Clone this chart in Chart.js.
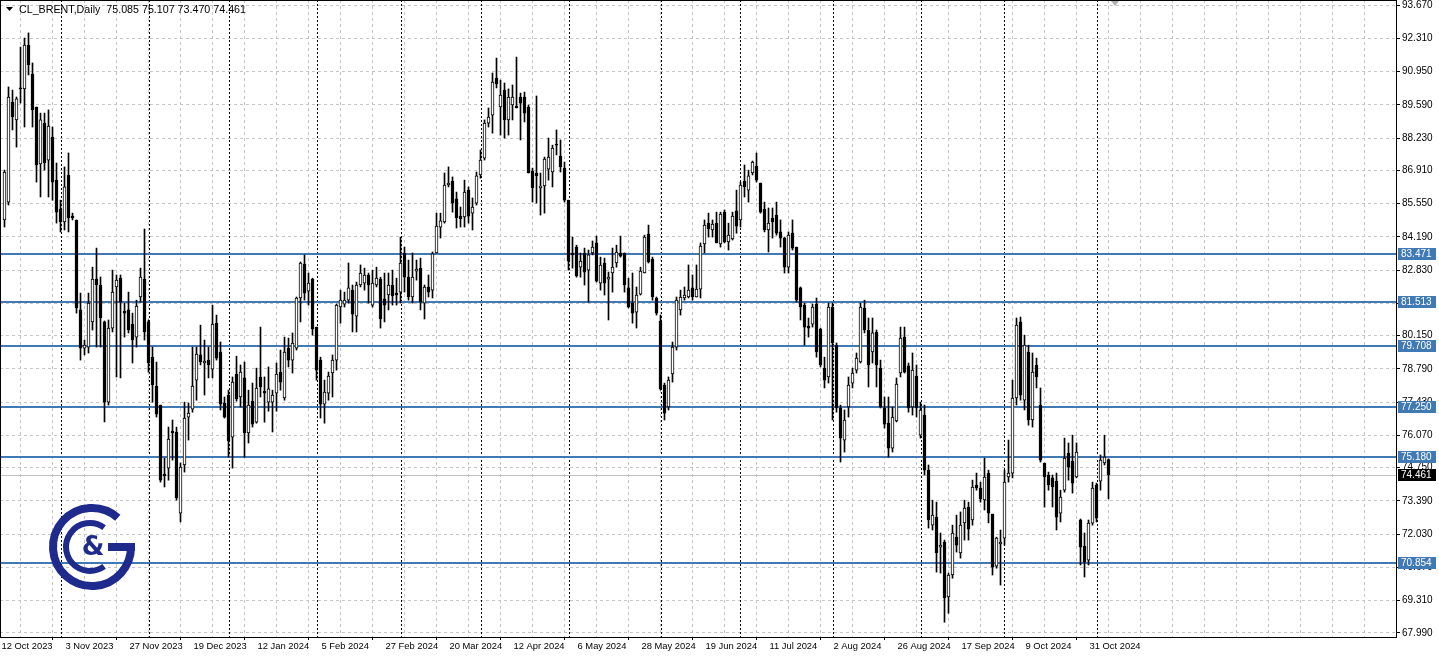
<!DOCTYPE html>
<html>
<head>
<meta charset="utf-8">
<script src="https://cdn.jsdelivr.net/npm/chart.js@4.4.1/dist/chart.umd.min.js"></script>
<style>
  html, body { margin: 0; padding: 0; background: #fff; }
  #wrap { position: relative; width: 1439px; height: 657px; }
</style>
</head>
<body>
<div id="wrap"><canvas id="brent" width="1439" height="657"></canvas></div>
<script>
/* CL_BRENT daily candles, 12 Oct 2023 .. 6 Nov 2024 */

const opens = [
  84.88, 85.61, 89.70, 88.97, 90.28, 90.24, 92.03, 90.85, 89.50, 87.17,
  88.84, 87.33, 88.27, 86.51, 85.33, 84.80, 86.72, 85.04, 84.88, 81.20,
  79.64, 79.68, 80.71, 82.46, 82.22, 80.71, 77.43, 80.46, 82.14, 82.50,
  81.14, 81.20, 80.62, 80.09, 81.73, 82.46, 80.71, 79.27, 78.09, 77.31,
  74.49, 74.73, 76.25, 76.21, 72.89, 74.86, 76.82, 77.14, 78.33, 79.36,
  79.03, 79.15, 78.78, 80.66, 79.48, 77.39, 77.72, 76.00, 78.58, 77.64,
  78.42, 76.17, 77.47, 76.61, 78.46, 77.88, 77.43, 77.43, 77.80, 78.66,
  77.60, 79.64, 79.15, 79.64, 81.69, 83.08, 81.97, 82.46, 80.50, 79.15,
  77.35, 77.80, 78.62, 79.15, 81.32, 81.44, 81.60, 82.01, 80.95, 82.22,
  82.30, 82.63, 81.40, 82.22, 82.46, 81.65, 81.81, 82.22, 81.89, 81.93,
  83.53, 82.54, 81.73, 82.79, 82.91, 81.48, 82.14, 82.01, 83.53, 84.59,
  84.80, 86.31, 86.47, 85.74, 85.04, 85.00, 86.10, 85.16, 85.57, 86.72,
  87.41, 88.84, 89.17, 90.68, 89.50, 90.19, 88.97, 89.58, 89.54, 89.91,
  89.91, 89.50, 86.88, 86.80, 86.19, 86.27, 86.96, 86.84, 87.98, 87.49,
  87.00, 85.69, 83.53, 83.77, 82.95, 83.53, 82.83, 83.53, 83.94, 82.30,
  83.12, 82.46, 82.71, 83.12, 83.53, 83.53, 82.10, 81.48, 81.11, 81.85,
  82.71, 84.30, 83.28, 81.69, 80.75, 78.13, 77.23, 78.58, 79.68, 81.20,
  81.69, 81.73, 82.10, 81.73, 82.05, 83.90, 84.75, 84.47, 84.75, 83.90,
  85.20, 83.98, 84.10, 85.25, 84.88, 86.47, 86.10, 86.80, 87.08, 86.39,
  85.33, 84.47, 84.96, 85.08, 84.39, 84.14, 82.95, 84.34, 83.77, 82.10,
  81.40, 80.54, 80.62, 81.44, 80.42, 78.82, 78.46, 81.32, 79.76, 77.19,
  75.88, 77.23, 78.21, 78.74, 79.07, 81.28, 80.38, 79.48, 80.30, 78.82,
  77.19, 76.57, 75.55, 76.66, 78.62, 80.09, 78.91, 77.23, 78.50, 76.08,
  76.90, 74.65, 72.40, 72.73, 71.50, 71.71, 69.46, 70.36, 71.91, 71.26,
  72.49, 73.14, 72.61, 74.04, 73.92, 73.43, 74.53, 72.85, 70.72, 71.63,
  71.87, 74.37, 74.53, 77.60, 80.71, 77.51, 79.48, 76.70, 78.95, 77.31,
  74.94, 74.45, 74.33, 74.20, 72.89, 73.83, 75.35, 75.02, 74.37, 72.61,
  71.54, 70.97, 72.48, 74.04, 74.20, 74.94, 75.085
];

const highs = [
  86.92, 90.32, 90.19, 89.91, 91.95, 92.32, 92.53, 91.30, 89.50, 89.25,
  89.25, 89.38, 88.68, 87.21, 85.69, 87.05, 87.62, 85.16, 84.88, 81.89,
  79.97, 81.89, 82.95, 83.73, 82.55, 80.75, 80.79, 82.83, 82.63, 82.63,
  81.48, 81.93, 81.07, 81.60, 82.91, 84.51, 80.79, 79.68, 79.07, 77.31,
  75.14, 76.41, 76.70, 76.41, 74.94, 77.43, 77.39, 79.68, 79.68, 80.58,
  79.97, 79.68, 81.40, 80.99, 79.89, 77.64, 77.92, 78.46, 79.31, 78.95,
  79.07, 77.92, 78.21, 78.82, 80.50, 78.46, 78.87, 77.92, 79.03, 79.56,
  80.09, 80.05, 80.26, 81.73, 83.16, 83.45, 82.71, 82.50, 80.50, 79.27,
  78.33, 78.66, 79.36, 81.44, 82.01, 81.93, 83.12, 82.22, 82.34, 83.04,
  82.91, 82.71, 82.83, 82.95, 82.54, 82.71, 82.71, 82.83, 82.50, 84.18,
  83.77, 83.24, 83.53, 83.24, 83.32, 82.22, 82.63, 83.57, 85.16, 85.16,
  86.80, 87.05, 86.64, 86.02, 85.41, 86.51, 86.23, 85.78, 86.84, 87.74,
  88.97, 89.46, 90.89, 91.50, 90.60, 90.48, 90.24, 90.40, 91.54, 90.07,
  90.11, 89.58, 87.00, 89.95, 86.80, 87.45, 88.23, 87.94, 88.56, 88.15,
  87.25, 85.69, 84.18, 83.85, 83.53, 83.73, 83.65, 84.02, 84.22, 83.36,
  83.32, 82.75, 83.73, 83.85, 84.22, 83.53, 82.50, 82.71, 82.14, 82.95,
  84.26, 84.67, 83.36, 81.73, 80.99, 78.21, 78.46, 79.89, 81.73, 82.01,
  82.14, 83.04, 82.63, 83.04, 83.94, 84.88, 85.16, 84.88, 85.20, 85.20,
  85.29, 84.75, 85.20, 86.10, 86.43, 87.13, 86.92, 87.29, 87.62, 86.39,
  85.61, 85.37, 85.37, 85.61, 84.88, 84.18, 84.39, 84.88, 83.77, 82.14,
  81.48, 80.87, 81.44, 81.69, 80.46, 79.27, 81.48, 81.48, 79.85, 77.31,
  77.11, 78.46, 78.82, 79.44, 81.48, 81.60, 80.87, 80.87, 80.38, 79.15,
  77.64, 77.64, 77.23, 78.42, 80.50, 80.50, 79.03, 79.44, 78.95, 77.43,
  77.31, 74.86, 73.42, 73.34, 72.08, 71.79, 70.44, 72.40, 72.81, 72.94,
  73.42, 73.34, 74.24, 74.53, 74.16, 75.14, 74.65, 72.85, 71.91, 72.20,
  74.65, 75.88, 78.33, 80.87, 80.91, 80.17, 79.76, 79.44, 79.23, 78.01,
  74.94, 74.57, 74.45, 74.53, 73.83, 75.96, 75.76, 76.08, 75.76, 72.65,
  72.08, 72.61, 74.16, 74.12, 75.27, 76.08, 75.107
];

const lows = [
  84.59, 85.49, 88.56, 87.86, 89.66, 88.68, 90.81, 88.68, 86.43, 85.82,
  86.92, 85.82, 85.69, 84.75, 84.39, 84.47, 84.39, 84.88, 81.07, 79.15,
  79.36, 79.44, 80.38, 79.68, 79.68, 76.62, 77.31, 80.30, 78.46, 78.42,
  80.09, 80.26, 79.03, 79.68, 81.52, 79.97, 78.66, 77.43, 76.82, 74.16,
  73.96, 74.24, 75.06, 73.42, 72.53, 74.57, 75.88, 77.02, 77.51, 78.95,
  77.72, 78.42, 78.42, 79.15, 77.11, 76.78, 75.18, 74.73, 77.47, 77.23,
  75.18, 75.76, 76.41, 76.57, 77.64, 76.61, 77.06, 76.21, 77.06, 77.92,
  77.51, 78.87, 78.62, 79.56, 80.71, 81.60, 81.40, 80.17, 78.33, 76.78,
  76.57, 77.51, 77.64, 78.74, 80.66, 81.32, 81.48, 80.30, 80.30, 82.14,
  82.01, 81.48, 81.32, 82.14, 80.46, 80.71, 81.20, 81.40, 81.40, 81.48,
  81.93, 81.60, 81.48, 82.42, 81.20, 80.83, 81.73, 81.69, 83.53, 84.14,
  84.75, 86.23, 85.20, 84.55, 84.59, 84.59, 84.75, 84.47, 85.49, 86.59,
  87.33, 88.68, 88.43, 90.28, 88.35, 88.23, 88.35, 88.97, 89.46, 88.15,
  88.89, 86.80, 85.61, 85.57, 85.08, 85.16, 86.51, 86.23, 87.54, 86.84,
  85.61, 82.83, 82.91, 82.54, 82.54, 82.22, 81.52, 83.45, 82.34, 82.01,
  81.81, 80.79, 81.93, 82.95, 83.36, 81.93, 81.28, 80.66, 80.46, 81.81,
  82.71, 83.12, 81.60, 80.99, 77.92, 76.70, 77.11, 78.25, 79.56, 80.99,
  81.60, 81.69, 81.60, 81.73, 81.69, 83.53, 84.18, 84.18, 83.94, 83.77,
  83.94, 83.65, 84.06, 84.34, 84.59, 85.82, 85.61, 86.72, 86.43, 85.16,
  84.39, 83.57, 84.14, 84.26, 83.77, 82.71, 82.71, 83.65, 81.52, 80.79,
  79.76, 80.09, 80.50, 79.27, 78.87, 78.01, 78.21, 76.70, 77.02, 74.98,
  75.39, 76.82, 78.01, 78.62, 79.03, 80.26, 78.05, 79.03, 78.05, 77.19,
  76.37, 75.18, 75.39, 76.62, 78.46, 78.62, 77.02, 76.90, 76.82, 75.96,
  74.45, 72.28, 72.20, 70.48, 70.44, 68.43, 68.80, 70.23, 71.30, 71.05,
  71.79, 71.79, 72.40, 73.83, 73.34, 73.02, 72.49, 70.36, 70.64, 69.95,
  71.58, 74.16, 74.33, 77.31, 77.51, 77.11, 76.49, 76.41, 78.01, 74.98,
  73.14, 73.83, 73.14, 72.20, 72.53, 73.75, 74.24, 73.71, 74.33, 70.77,
  70.28, 70.77, 72.40, 72.53, 73.83, 74.86, 73.470
];

const closes = [
  86.84, 89.91, 89.09, 89.83, 90.24, 92.03, 91.22, 89.38, 87.13, 88.97,
  87.21, 88.72, 86.43, 85.20, 84.80, 86.23, 84.96, 84.96, 81.28, 79.64,
  79.76, 81.48, 82.46, 82.22, 80.87, 77.43, 80.46, 81.93, 82.42, 81.52,
  81.07, 80.38, 79.97, 81.36, 82.54, 80.30, 79.03, 78.13, 76.94, 74.24,
  74.41, 75.92, 76.17, 73.51, 74.77, 76.78, 76.98, 78.09, 79.40, 79.07,
  79.11, 78.95, 80.62, 79.23, 77.35, 76.82, 75.84, 78.25, 77.56, 78.66,
  76.17, 77.31, 76.53, 78.01, 78.05, 77.80, 77.97, 77.72, 78.58, 78.25,
  79.48, 79.15, 79.85, 81.69, 83.12, 81.89, 82.30, 80.42, 78.74, 77.35,
  77.84, 78.50, 79.15, 81.40, 81.60, 81.60, 82.10, 81.03, 82.22, 82.71,
  82.63, 82.22, 82.30, 82.50, 80.83, 81.40, 82.22, 81.77, 81.81, 83.12,
  82.54, 81.73, 82.54, 82.87, 81.52, 82.14, 81.93, 83.49, 84.63, 84.84,
  86.31, 86.39, 85.57, 84.96, 84.92, 86.02, 85.04, 85.41, 86.68, 87.33,
  88.84, 89.09, 90.52, 90.44, 89.99, 88.97, 89.91, 89.91, 89.46, 89.66,
  89.25, 86.80, 86.19, 86.68, 86.27, 87.37, 87.45, 87.82, 87.94, 87.05,
  85.69, 83.20, 83.45, 82.59, 83.20, 82.75, 83.45, 83.77, 82.38, 83.04,
  82.30, 82.54, 82.95, 83.57, 83.40, 82.22, 81.32, 81.07, 81.81, 82.79,
  84.18, 83.16, 81.73, 81.07, 77.97, 76.98, 78.33, 79.68, 81.60, 81.73,
  81.81, 82.01, 81.73, 82.05, 83.81, 84.67, 84.51, 84.71, 83.94, 85.12,
  83.98, 84.26, 85.04, 84.63, 86.31, 86.23, 86.68, 87.25, 86.51, 85.20,
  84.47, 84.75, 84.80, 84.34, 84.14, 82.95, 84.26, 83.73, 81.60, 81.32,
  80.50, 80.46, 81.32, 79.48, 78.95, 78.33, 81.32, 79.85, 77.19, 75.96,
  76.70, 78.13, 78.62, 79.23, 81.32, 80.38, 78.95, 80.26, 78.95, 77.23,
  76.53, 75.55, 76.82, 78.17, 80.05, 78.66, 77.19, 78.74, 77.19, 77.11,
  74.65, 72.61, 72.81, 71.26, 71.58, 69.42, 70.36, 72.08, 71.58, 72.40,
  73.10, 72.24, 73.96, 73.92, 73.47, 74.37, 72.89, 70.68, 71.87, 71.71,
  74.16, 74.53, 77.60, 80.58, 77.72, 79.76, 76.70, 78.66, 78.46, 75.06,
  74.37, 74.04, 73.96, 72.73, 73.55, 75.14, 74.77, 74.12, 75.39, 71.50,
  70.89, 72.48, 73.92, 72.69, 75.06, 75.18, 74.461
];

// a date label every 16 bars
const dateLabels = ['12 Oct 2023', '3 Nov 2023', '27 Nov 2023', '19 Dec 2023', '12 Jan 2024',
  '5 Feb 2024', '27 Feb 2024', '20 Mar 2024', '12 Apr 2024', '6 May 2024', '28 May 2024',
  '19 Jun 2024', '11 Jul 2024', '2 Aug 2024', '26 Aug 2024', '17 Sep 2024', '9 Oct 2024', '31 Oct 2024'];

const priceTicks = [93.670, 92.310, 90.950, 89.590, 88.230, 86.910, 85.550, 84.190, 82.830, 81.470,
  80.150, 78.790, 77.430, 76.070, 74.750, 73.390, 72.030, 70.670, 69.310, 67.990];

// horizontal levels drawn on the chart
const levels = [83.471, 81.513, 79.708, 77.250, 75.180, 70.854];
const bidPrice = 74.461;

// first bar of each month (period separators)
const monthStarts = [14, 36, 56, 78, 99, 119, 141, 164, 184, 207, 229, 250, 273];

const barsTotal = 344; // visible slots incl. empty space on the right

const bodyData = opens.map((o, i) => ({ x: i, y: [o, closes[i]] }));
const wickData = lows.map((l, i) => ({ x: i, y: [l, highs[i]] }));

const FONT = { family: 'Liberation Sans', size: 10 };

const mtDecor = {
  id: 'mtDecor',
  beforeDatasetsDraw(chart) {
    const { ctx, chartArea: a, scales: { x, y } } = chart;
    ctx.save();
    ctx.beginPath();
    ctx.rect(a.left, a.top, a.right - a.left, a.bottom - a.top);
    ctx.clip();

    // month separators
    ctx.strokeStyle = '#000';
    ctx.lineWidth = 1;
    ctx.setLineDash([2, 2]);
    monthStarts.forEach(m => {
      const px = Math.round(x.getPixelForValue(m)) + 0.5;
      ctx.beginPath();
      ctx.moveTo(px, a.top);
      ctx.lineTo(px, a.bottom);
      ctx.stroke();
    });
    ctx.setLineDash([]);

    // bid line
    const by = Math.round(y.getPixelForValue(bidPrice)) + 0.5;
    ctx.strokeStyle = '#c0c0c0';
    ctx.beginPath();
    ctx.moveTo(a.left, by);
    ctx.lineTo(a.right, by);
    ctx.stroke();

    // levels
    ctx.strokeStyle = '#3f7ab5';
    ctx.lineWidth = 2;
    levels.forEach(v => {
      const py = Math.round(y.getPixelForValue(v));
      ctx.beginPath();
      ctx.moveTo(a.left, py);
      ctx.lineTo(a.right, py);
      ctx.stroke();
    });
    ctx.restore();
  },
  afterDraw(chart) {
    const { ctx, chartArea: a, scales: { y } } = chart;
    ctx.save();
    // frame
    ctx.strokeStyle = '#000';
    ctx.lineWidth = 1;
    ctx.strokeRect(a.left + 0.5, a.top + 0.5, a.right - a.left - 1, a.bottom - a.top);

    ctx.font = '10px "Liberation Sans"';
    ctx.textBaseline = 'middle';
    ctx.textAlign = 'left';
    const tag = (v, bg, fg) => {
      const py = Math.round(y.getPixelForValue(v));
      ctx.fillStyle = bg;
      ctx.fillRect(a.right + 1, py - 6, 38, 12);
      ctx.fillStyle = fg;
      ctx.fillText(v.toFixed(3), a.right + 4, py + 0.5);
    };
    levels.forEach(v => tag(v, '#3f7ab5', '#fff'));
    tag(bidPrice, '#000', '#fff');

    // title
    ctx.fillStyle = '#000';
    ctx.beginPath();
    ctx.moveTo(6, 7); ctx.lineTo(13, 7); ctx.lineTo(9.5, 11);
    ctx.closePath();
    ctx.fill();
    ctx.font = '10.7px "Liberation Sans"';
    ctx.fillText('CL_BRENT,Daily  ' + [opens[opens.length - 1], highs[highs.length - 1],
      lows[lows.length - 1], closes[closes.length - 1]].map(v => v.toFixed(3)).join(' '), 19, 10);

    // small shift marker at the top
    ctx.fillStyle = '#b0b0b0';
    ctx.beginPath();
    ctx.moveTo(1111, 1); ctx.lineTo(1119, 1); ctx.lineTo(1115, 6);
    ctx.closePath();
    ctx.fill();

    // logo: outer G, inner C and an ampersand
    const cx = 92, cy = 547;
    ctx.strokeStyle = '#1e2a8c';
    ctx.fillStyle = '#1e2a8c';
    ctx.lineWidth = 8;
    ctx.beginPath();
    ctx.arc(cx, cy, 39, -0.27 * Math.PI, 0, true);
    ctx.stroke();
    ctx.beginPath();
    ctx.moveTo(cx + 43, cy);
    ctx.lineTo(cx + 16, cy);
    ctx.stroke();
    ctx.lineWidth = 6;
    ctx.beginPath();
    ctx.arc(cx - 2, cy, 24, -0.3 * Math.PI, 0.3 * Math.PI, true);
    ctx.stroke();
    ctx.font = 'bold 26px "DejaVu Sans"';
    ctx.textAlign = 'center';
    ctx.fillText('&', cx + 1, cy + 1);
    ctx.restore();
  }
};

new Chart(document.getElementById('brent'), {
  type: 'bar',
  data: {
    datasets: [
      {
        label: 'body',
        data: bodyData,
        grouped: false,
        barThickness: 3,
        minBarLength: 1,
        borderWidth: 1,
        borderSkipped: false,
        borderColor: '#000',
        backgroundColor: ctx => closes[ctx.dataIndex] >= opens[ctx.dataIndex] ? '#fff' : '#000'
      },
      {
        label: 'wick',
        data: wickData,
        grouped: false,
        barThickness: 1,
        borderWidth: 0,
        backgroundColor: '#000'
      }
    ]
  },
  options: {
    responsive: false,
    animation: false,
    devicePixelRatio: 1,
    layout: { padding: 0 },
    plugins: { legend: { display: false }, tooltip: { enabled: false } },
    scales: {
      x: {
        type: 'linear',
        position: 'bottom',
        min: -1.125,
        max: -1.125 + 1397 / 4,
        offset: false,
        afterBuildTicks: s => {
          const t = [];
          for (let v = 0; v <= barsTotal; v += 8) t.push({ value: v });
          s.ticks = t;
        },
        afterFit: s => { s.height = 20; s.paddingLeft = 0; s.paddingRight = 0; },
        ticks: {
          autoSkip: false,
          maxRotation: 0,
          align: 'start',
          labelOffset: -3,
          padding: 1,
          color: '#000',
          font: { family: 'Liberation Sans', size: 9.4 },
          callback: v => (v % 16 === 0 && dateLabels[v / 16]) ? dateLabels[v / 16] : ''
        },
        grid: {
          color: '#c6c6c6',
          tickLength: 3,
          tickColor: c => (c.tick && c.tick.value % 16 === 0 && c.tick.value <= 272) ? '#000' : 'rgba(0,0,0,0)'
        },
        border: { display: false, dash: [3, 3] }
      },
      y: {
        position: 'right',
        min: 67.826,
        max: 93.875,
        afterBuildTicks: s => { s.ticks = priceTicks.map(v => ({ value: v })); },
        afterFit: s => { s.width = 42; s.paddingTop = 0; s.paddingBottom = 0; },
        ticks: {
          padding: 2,
          color: '#000',
          font: FONT,
          callback: v => v.toFixed(3)
        },
        grid: { color: '#c6c6c6', tickLength: 3, tickColor: '#000' },
        border: { display: false, dash: [3, 3] }
      }
    }
  },
  plugins: [mtDecor]
});
</script>
</body>
</html>
